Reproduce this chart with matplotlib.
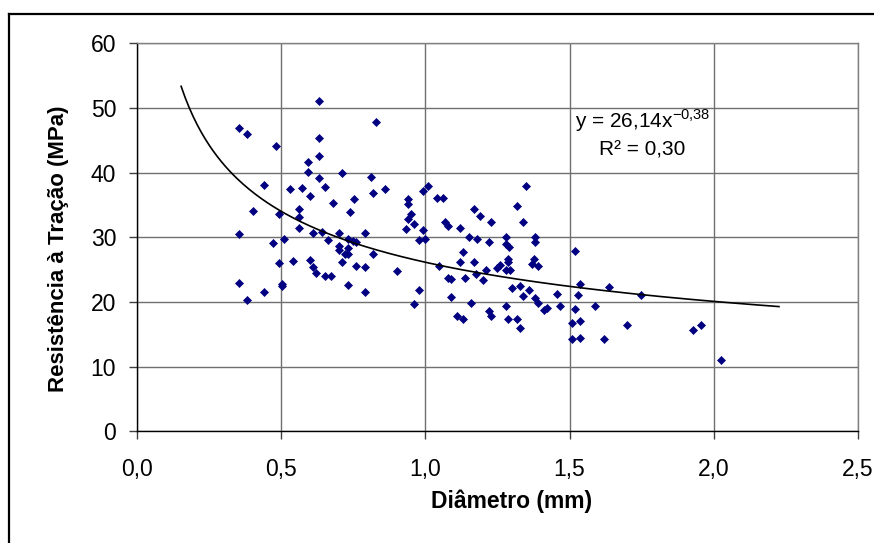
import numpy as np
import matplotlib
matplotlib.use("Agg")
import matplotlib.pyplot as plt
from matplotlib.lines import Line2D

plt.rcParams["font.family"] = ["Liberation Sans", "DejaVu Sans"]
plt.rcParams["mathtext.fontset"] = "custom"
plt.rcParams["mathtext.rm"] = "Liberation Sans"

# Diâmetro (mm) x Resistência à tração (MPa)
diametro = [
    0.630, 0.352, 0.382, 0.481, 0.631, 0.631, 0.592, 0.592, 0.631, 0.710,
    0.442, 0.531, 0.571, 0.652, 0.601, 0.680, 0.402, 0.491, 0.562, 0.562,
    0.740, 0.830, 0.811, 0.820, 0.860, 0.751, 0.940, 0.940, 0.950, 0.940,
    0.990, 1.010, 1.039, 1.060, 1.168, 1.190, 1.349, 1.318, 1.338, 1.229,
    1.068, 1.080, 1.120, 0.961, 0.931, 0.990, 0.979, 1.000, 0.701, 0.790,
    0.730, 0.750, 0.760, 0.701, 0.732, 0.701, 0.720, 0.730, 0.820, 0.710,
    0.760, 0.790, 0.900, 0.671, 0.731, 0.790, 0.979, 0.960, 1.150, 1.180,
    1.280, 1.379, 1.219, 1.379, 1.278, 1.289, 1.129, 1.120, 1.168, 1.288,
    1.288, 1.378, 1.368, 1.389, 1.048, 1.248, 1.259, 1.209, 1.280, 1.292,
    1.177, 1.078, 1.089, 1.138, 1.198, 1.299, 1.329, 1.358, 1.338, 1.379,
    1.389, 1.412, 1.421, 1.089, 1.159, 1.279, 1.219, 1.229, 1.108, 1.129,
    1.288, 1.318, 1.329, 0.562, 0.610, 0.640, 0.352, 0.472, 0.511, 0.662,
    0.492, 0.541, 0.601, 0.611, 0.621, 0.652, 0.352, 0.502, 0.502, 0.442,
    0.382, 1.519, 1.458, 1.468, 1.537, 1.528, 1.638, 1.747, 1.588, 1.519,
    1.507, 1.537, 1.698, 1.507, 1.537, 1.618, 1.927, 1.957, 2.026,
]
resistencia = [
    51.0, 46.9, 46.0, 44.1, 45.4, 42.5, 41.7, 40.1, 39.1, 40.0,
    38.1, 37.4, 37.6, 37.8, 36.4, 35.3, 34.1, 33.6, 34.3, 33.2,
    33.9, 47.9, 39.3, 36.8, 37.4, 35.9, 35.9, 35.1, 33.6, 32.8,
    37.1, 38.0, 36.1, 36.1, 34.4, 33.3, 37.9, 34.8, 32.3, 32.3,
    32.3, 31.7, 31.5, 32.1, 31.3, 31.1, 29.6, 29.8, 30.7, 30.6,
    29.7, 29.4, 29.2, 28.7, 28.4, 28.0, 27.4, 27.4, 27.4, 26.2,
    25.5, 25.4, 24.8, 24.0, 22.7, 21.6, 21.8, 19.7, 30.0, 29.8,
    30.1, 30.1, 29.3, 29.2, 28.9, 28.5, 27.7, 26.2, 26.2, 26.6,
    26.2, 26.6, 25.8, 25.5, 25.5, 25.2, 25.7, 24.9, 24.9, 24.9,
    24.3, 23.7, 23.6, 23.7, 23.4, 22.1, 22.5, 21.9, 20.9, 20.6,
    19.9, 18.8, 19.0, 20.8, 19.9, 19.3, 18.6, 17.8, 17.8, 17.3,
    17.4, 17.4, 16.0, 31.4, 30.7, 30.8, 30.5, 29.1, 29.7, 29.6,
    26.0, 26.3, 26.5, 25.4, 24.5, 24.0, 23.0, 22.8, 22.4, 21.6,
    20.3, 27.9, 21.2, 19.4, 22.8, 21.0, 22.3, 21.1, 19.4, 18.9,
    16.7, 17.1, 16.4, 14.3, 14.4, 14.3, 15.6, 16.4, 11.1,
]

# linha de tendência potência y = a * x^b
coef_a = 26.14
coef_b = -0.38
r2 = 0.30
trend_range = (0.153, 2.226)

x_ticks = [0.0, 0.5, 1.0, 1.5, 2.0, 2.5]
y_ticks = [0, 10, 20, 30, 40, 50, 60]

W, H = 874, 543
fig = plt.figure(figsize=(W / 100, H / 100), dpi=100)
ax = fig.add_axes([137 / W, 1 - 431.3 / H, 721 / W, 388 / H])

ax.plot(diametro, resistencia, linestyle="none", marker="D", markersize=3.8,
        markerfacecolor="#000080", markeredgecolor="#000080",
        markeredgewidth=0.5, zorder=3)

xt = np.linspace(trend_range[0], trend_range[1], 300)
ax.plot(xt, coef_a * xt ** coef_b, color="black", linewidth=1.2, zorder=4)

ax.set_xlim(0, 2.5)
ax.set_ylim(0, 60)
ax.set_xticks(x_ticks)
ax.set_yticks(y_ticks)
ax.set_xticklabels([f"{v:.1f}".replace(".", ",") for v in x_ticks])
ax.set_yticklabels([str(v) for v in y_ticks])
ax.tick_params(axis="both", direction="out", length=6, width=1,
               color="#404040", labelsize=16.5)
ax.tick_params(axis="x", pad=13)
ax.tick_params(axis="y", pad=9)

ax.grid(True, color="#707070", linewidth=1)
ax.set_axisbelow(True)
for side in ["top", "right"]:
    ax.spines[side].set_color("#808080")
    ax.spines[side].set_linewidth(1)
for side in ["left", "bottom"]:
    ax.spines[side].set_color("black")
    ax.spines[side].set_linewidth(1)

fig.text(512 / W, 1 - 508 / H, "Diâmetro (mm)", ha="center", va="baseline",
         fontsize=16.5, fontweight="bold")
fig.text(58.5 / W, 1 - 249 / H, "Resistência à Tração (MPa)", ha="center",
         va="center", rotation=90, fontsize=16, fontweight="bold")

a_txt = f"{coef_a:.2f}".replace(".", ",")
b_txt = f"{coef_b:.2f}".replace(".", "{,}")
eq = f"y = {a_txt}x" + r"$^{\mathrm{" + b_txt + "}}$"
ax.text(1.752, 47.0, eq, ha="center", va="baseline", fontsize=15)
ax.text(1.752, 42.7, f"R² = {r2:.2f}".replace(".", ","), ha="center",
        va="baseline", fontsize=15)

# moldura externa do gráfico
fig.add_artist(Line2D([9 / W, 1.0], [1 - 14 / H, 1 - 14 / H],
                      transform=fig.transFigure, color="black", linewidth=1.6))
fig.add_artist(Line2D([9 / W, 9 / W], [0.0, 1 - 14 / H],
                      transform=fig.transFigure, color="black", linewidth=1.6))

fig.savefig("out.png", dpi=100)
